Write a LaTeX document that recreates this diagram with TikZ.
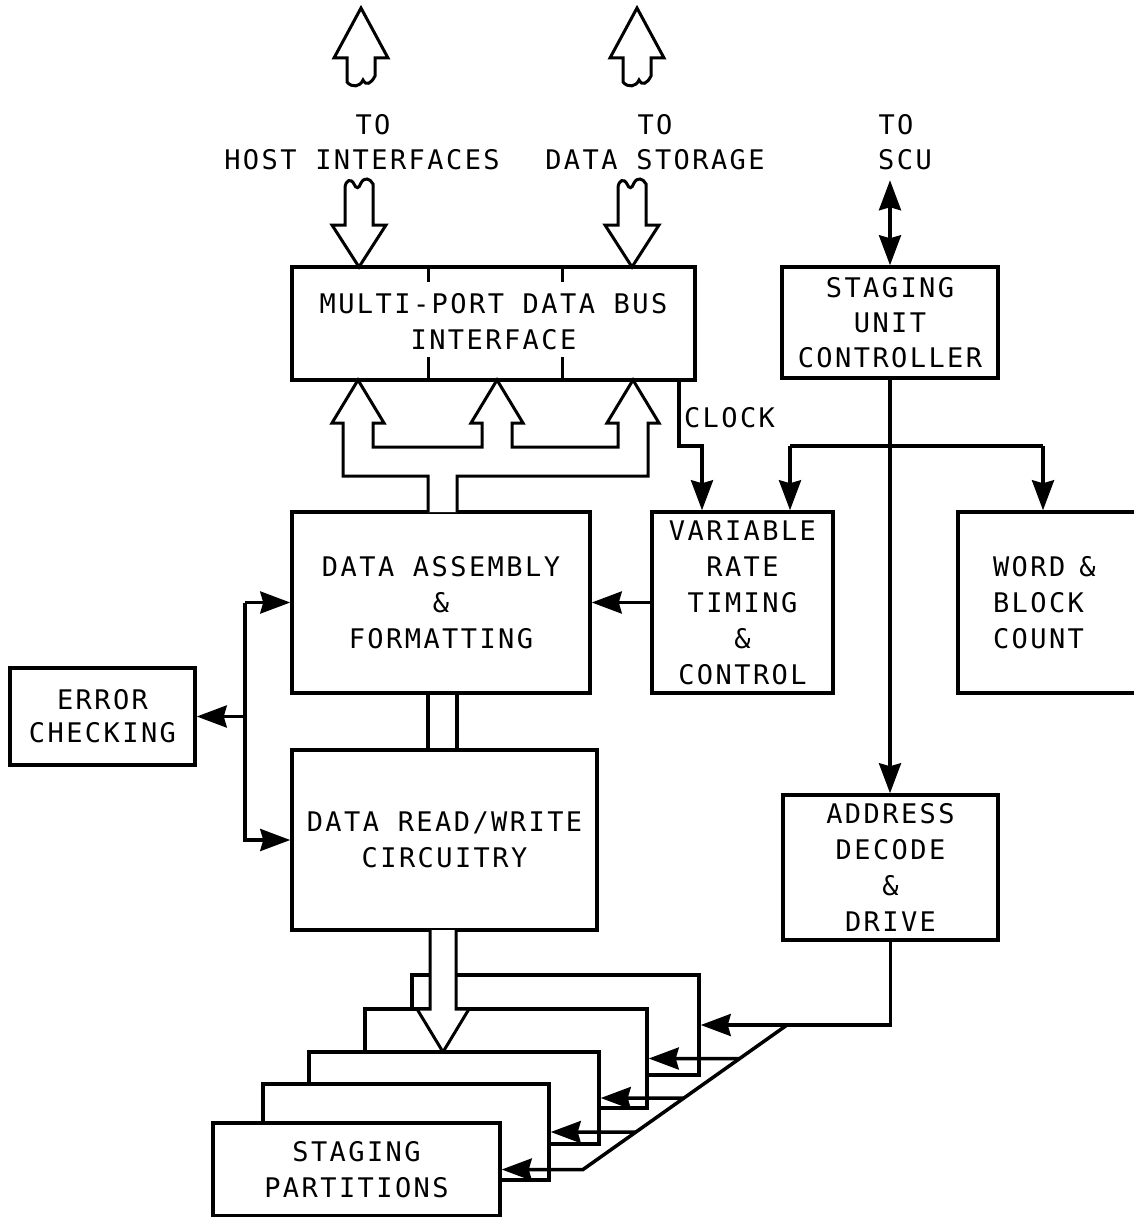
\documentclass[tikz,border=0pt]{standalone}
\usepackage{fontspec}
\usetikzlibrary{arrows.meta}
\newfontfamily\monolabel[LetterSpace=9]{DejaVu Sans Mono}
\newcommand{\diagfont}{\monolabel\fontsize{27}{36}\selectfont}

\begin{document}
\begin{tikzpicture}[x=1pt, y=-1pt, line width=3.5pt,
    every node/.style={font=\diagfont, inner sep=0pt},
    blk/.style={draw, fill=white, align=center},
    arr/.style={-{Stealth[length=30pt,width=22pt,inset=3pt]}},
    dbl/.style={{Stealth[length=30pt,width=22pt,inset=3pt]}-{Stealth[length=30pt,width=22pt,inset=3pt]}},
    fat/.style={draw, fill=white, line width=3pt, line join=miter}]
  \useasboundingbox (0,0) rectangle (1134,1217);
  \clip (0,0) rectangle (1134,1217);

  % Labels at the top
  \node (toHost) at (373,125) {TO};
  \node (hostLbl) at (362,160) {HOST INTERFACES};
  \node (toStore) at (655,125) {TO};
  \node (storeLbl) at (655,160) {DATA STORAGE};
  \node (toScu) at (896,125) {TO};
  \node (scuLbl) at (905,160) {SCU};

  % Blocks
  \node[blk, minimum width=403, minimum height=113] (bus) at (493.5,323.5) {\raisebox{5pt}{MULTI-PORT DATA BUS}\\\raisebox{5pt}{INTERFACE}};
  \node[blk, minimum width=216, minimum height=111] (suc) at (890,322.5) {STAGING\\[-1pt]UNIT\\[-1pt]CONTROLLER};
  \node[blk, minimum width=298, minimum height=181] (daf) at (441,602.5) {DATA ASSEMBLY\\\&\\FORMATTING};
  \node[blk, minimum width=181, minimum height=181] (vrtc) at (742.5,602.5) {VARIABLE\\RATE\\TIMING\\\&\\CONTROL};
  \node[blk, minimum height=181, text width=152, inner xsep=35, align=left] (wbc) at (1069,602.5) {WORD\hspace{14pt}\&\\BLOCK\\COUNT};
  \node[blk, minimum width=185, minimum height=97] (ec) at (102.5,716.5) {ERROR\\[-3pt]CHECKING};
  \node[blk, minimum width=305, minimum height=180] (drw) at (444.5,840) {DATA READ/WRITE\\CIRCUITRY};
  \node[blk, minimum width=215, minimum height=145] (ad) at (890.5,867.5) {ADDRESS\\DECODE\\\&\\DRIVE};

  % Port ticks on the bus interface
  \foreach \dx in {138,272} {
    \draw (bus.north west) ++(\dx,0) -- ++(0,17);
    \draw (bus.south west) ++(\dx,0) -- ++(0,-25);
  }

  % Broad data paths to host and storage
  \foreach \x in {361,637}
    \draw[fat] (\x,8) -- ({\x+27},58) -- ({\x+14},58) -- ({\x+14},76)
      .. controls ({\x+10},84) and ({\x+5},86) .. ({\x+2},80)
      .. controls ({\x-1},87) and ({\x-9},88) .. ({\x-14},82)
      -- ({\x-14},58) -- ({\x-27},58) -- cycle;
  \foreach \x in {359,632}
    \draw[fat] ({\x-14},187) .. controls ({\x-13},180) and ({\x-8},178) .. ({\x-5},184)
      .. controls ({\x-3},189) and ({\x},189) .. ({\x+2},183)
      .. controls ({\x+5},177) and ({\x+11},178) .. ({\x+14},184)
      -- ({\x+14},225) -- ({\x+27},225) -- (\x,267) -- ({\x-27},225) -- ({\x-14},225) -- cycle;

  % Manifold from data assembly up to the three ports
  \draw[fat] (428,512) -- (428,476) -- (343,476) -- (343,423) -- (332,423) -- (358,380)
    -- (384,423) -- (373,423) -- (373,447) -- (482,447) -- (482,423) -- (471,423)
    -- (497,380) -- (523,423) -- (512,423) -- (512,447) -- (618,447) -- (618,423)
    -- (607,423) -- (633,380) -- (659,423) -- (648,423) -- (648,476) -- (457,476) -- (457,512);

  % Bar between assembly and read/write
  \coordinate (stemL) at (428,0);
  \coordinate (stemR) at (457,0);
  \draw (stemL |- daf.south) -- (stemL |- drw.north);
  \draw (stemR |- daf.south) -- (stemR |- drw.north);

  % Controller links
  \draw[dbl] (suc.north) ++(0,-85) -- (suc.north);
  \draw[arr] (suc.south) -- (suc.south |- ad.north);
  \coordinate (brL) at (790,446);
  \coordinate (brR) at (1043,446);
  \draw (brL) -- (brR);
  \draw[arr] (brL) -- (brL |- vrtc.north);
  \draw[arr] (brR) -- (brR |- wbc.north);

  % Clock
  \coordinate (clk) at (702,446);
  \draw[arr] (bus.south east) ++(-18,0) |- (clk) -- (clk |- vrtc.north);
  \node (clockLbl) at (729.5,418) {CLOCK};
  \draw[arr] (vrtc.west) -- (daf.east);

  % Error checking
  \coordinate (ecx) at (245,700);
  \draw[arr] (ecx |- daf.west) -- (daf.west);
  \draw[arr] (ecx |- daf.west) |- (drw.west);
  \draw[arr] (ecx |- ec.east) -- (ec.east);

  % Staging partitions, back to front
  \node[blk, minimum width=287, minimum height=100] (p5) at (555.5,1025) {};
  \node[blk, minimum width=282, minimum height=99] (p4) at (506,1058.5) {};
  \draw[fat] (430,930) -- (430,1009) -- (417,1009) -- (443,1052) -- (469,1009) -- (456,1009) -- (456,930);
  \node[blk, minimum width=290, minimum height=92] (p3) at (454,1098) {};
  \node[blk, minimum width=286, minimum height=96] (p2) at (406,1132) {};
  \node[blk, minimum width=287, minimum height=93] (p1) at (356.5,1169.5) {STAGING\\PARTITIONS};

  % Address drive lines
  \coordinate (dtop) at (787,1025);
  \coordinate (dbot) at (583,1169.5);
  \draw[arr] (ad.south) |- (p5.east);
  \draw[arr] (dtop) -- (dbot) -- (p1.east);
  \foreach \p in {p4,p3,p2}
    \draw[arr] (intersection of dtop--dbot and \p.west--\p.east) -- (\p.east);
\end{tikzpicture}
\end{document}
